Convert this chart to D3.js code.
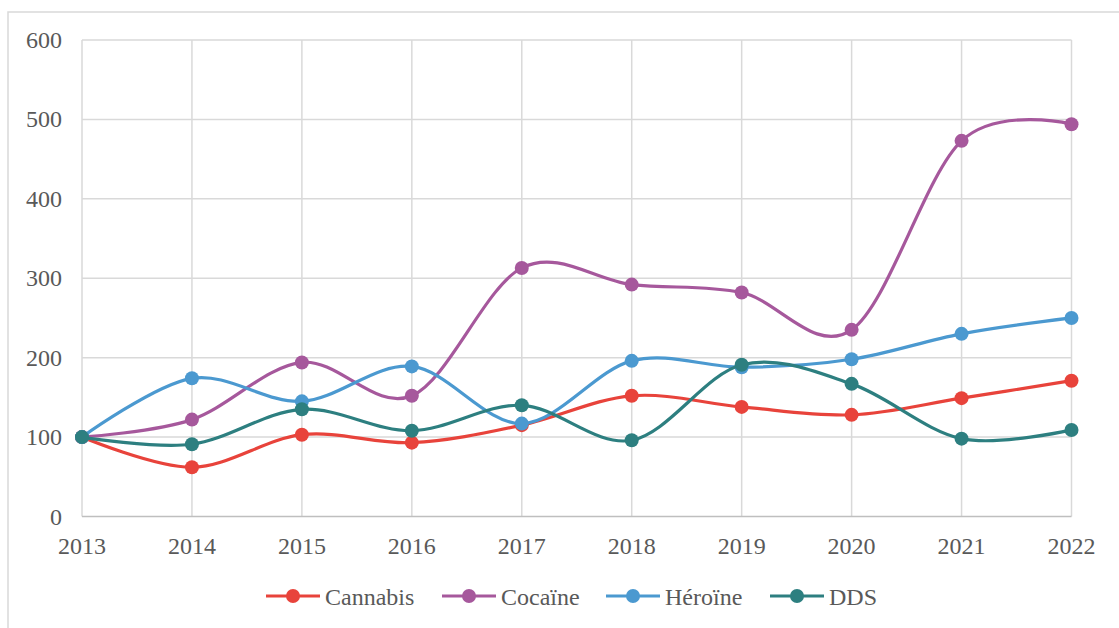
<!DOCTYPE html>
<html>
<head>
<meta charset="utf-8">
<script src="https://cdn.jsdelivr.net/npm/d3@7"></script>
<style>
  html, body { margin: 0; padding: 0; background: #fff; }
  svg { display: block; }
</style>
</head>
<body>
<svg id="chart" width="1119" height="628"></svg>
<script>
// Index values (2013 = 100)
const years = [2013, 2014, 2015, 2016, 2017, 2018, 2019, 2020, 2021, 2022];
const cannabis = [100, 62, 103, 93, 115, 152, 138, 128, 149, 171];
const cocaine  = [100, 122, 194, 152, 313, 292, 282, 235, 473, 494];
const heroine  = [100, 174, 145, 189, 117, 196, 188, 198, 230, 250];
const dds      = [100, 91, 135, 108, 140, 96, 191, 167, 98, 109];
const seriesNames = ["Cannabis", "Cocaïne", "Héroïne", "DDS"];
const yTicks = [0, 100, 200, 300, 400, 500, 600];

const series = [
  { name: seriesNames[0], values: cannabis, color: "#E8433B" },
  { name: seriesNames[1], values: cocaine,  color: "#A6589C" },
  { name: seriesNames[2], values: heroine,  color: "#4B99D0" },
  { name: seriesNames[3], values: dds,      color: "#2D7F80" }
];

const FONT = "'Liberation Serif', Tinos, 'DejaVu Serif', 'Times New Roman', serif";

const svg = d3.select("#chart")
  .attr("font-family", FONT);

// outer chart frame
svg.append("rect")
  .attr("x", 8).attr("y", 12)
  .attr("width", 1300).attr("height", 800)
  .attr("fill", "none").attr("stroke", "#d9d9d9").attr("stroke-width", 1.5);

const x = d3.scalePoint().domain(years).range([82, 1071.5]);
const y = d3.scaleLinear().domain([0, 600]).range([516.5, 40]);

// horizontal gridlines
svg.append("g").selectAll("line").data(yTicks.filter(t => t > 0)).join("line")
  .attr("x1", x(years[0])).attr("x2", x(years[years.length - 1]))
  .attr("y1", d => y(d)).attr("y2", d => y(d))
  .attr("stroke", "#d9d9d9").attr("stroke-width", 1.5);

// vertical gridlines
svg.append("g").selectAll("line").data(years).join("line")
  .attr("x1", d => x(d)).attr("x2", d => x(d))
  .attr("y1", y(600)).attr("y2", y(0))
  .attr("stroke", "#d9d9d9").attr("stroke-width", 1.5);

// baseline
svg.append("line")
  .attr("x1", x(years[0])).attr("x2", x(years[years.length - 1]))
  .attr("y1", y(0)).attr("y2", y(0))
  .attr("stroke", "#bfbfbf").attr("stroke-width", 1.5);

// y tick labels
svg.append("g").selectAll("text").data(yTicks).join("text")
  .attr("x", 62).attr("y", d => y(d) + 8)
  .attr("text-anchor", "end")
  .attr("font-family", FONT)
  .attr("font-size", 24)
  .attr("fill", "#595959")
  .text(d => d);

// x tick labels
svg.append("g").selectAll("text").data(years).join("text")
  .attr("x", d => x(d)).attr("y", 554)
  .attr("text-anchor", "middle")
  .attr("font-family", FONT)
  .attr("font-size", 24)
  .attr("fill", "#595959")
  .text(d => d);

// smoothed lines
const line = d3.line()
  .x((d, i) => x(years[i]))
  .y(d => y(d))
  .curve(d3.curveCardinal.tension(0));

const g = svg.append("g");
series.forEach(s => {
  g.append("path")
    .attr("d", line(s.values))
    .attr("fill", "none")
    .attr("stroke", s.color)
    .attr("stroke-width", 3.2)
    .attr("stroke-linecap", "round");
  g.append("g").selectAll("circle").data(s.values).join("circle")
    .attr("cx", (d, i) => x(years[i]))
    .attr("cy", d => y(d))
    .attr("r", 7)
    .attr("fill", s.color);
});

// legend
const legendX = [266, 442, 606, 770];
const legend = svg.append("g");
series.forEach((s, i) => {
  const lx = legendX[i];
  const ly = 596;
  legend.append("line")
    .attr("x1", lx).attr("x2", lx + 54)
    .attr("y1", ly).attr("y2", ly)
    .attr("stroke", s.color).attr("stroke-width", 3.2);
  legend.append("circle")
    .attr("cx", lx + 27).attr("cy", ly).attr("r", 7)
    .attr("fill", s.color);
  legend.append("text")
    .attr("x", lx + 59).attr("y", ly + 8.5)
    .attr("font-family", FONT)
    .attr("font-size", 24)
    .attr("fill", "#595959")
    .text(s.name);
});
</script>
</body>
</html>
